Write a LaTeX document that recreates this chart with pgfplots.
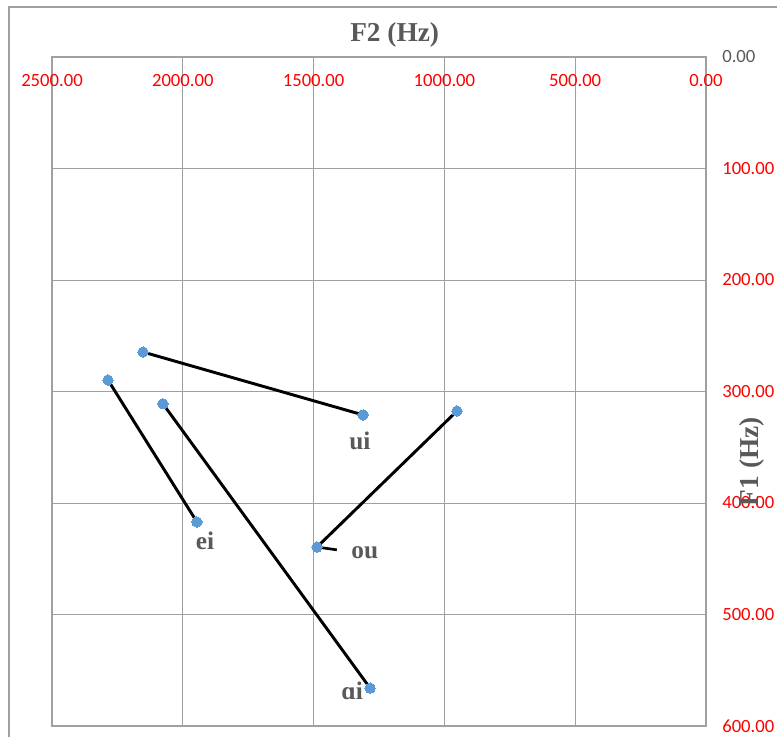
\documentclass[border=0pt]{standalone}
\usepackage{fontspec}
\setmainfont{Liberation Serif}
\newfontfamily\carlito{Carlito}
\usepackage{pgfplots}
\pgfplotsset{compat=1.18}
\usetikzlibrary{calc}
\definecolor{ptblue}{RGB}{91,155,213}
\definecolor{txtgray}{RGB}{89,89,89}
\definecolor{gridgray}{RGB}{160,160,160}
\begin{document}
\begin{tikzpicture}[x=0.75pt,y=0.75pt]
\begin{axis}[
  scale only axis, width=490.5pt, height=501.75pt,
  xmin=0, xmax=2500, ymin=0, ymax=600,
  x dir=reverse, y dir=reverse,
  xtick={0,500,1000,1500,2000,2500},
  xticklabels={0.00,500.00,1000.00,1500.00,2000.00,2500.00},
  ytick={0,100,200,300,400,500,600},
  yticklabels={\textcolor{txtgray}{0.00},100.00,200.00,300.00,400.00,500.00,600.00},
  xticklabel pos=upper, yticklabel pos=right,
  major tick length=0pt, tick style={draw=none},
  grid=major, major grid style={gridgray, line width=0.75pt},
  axis line style={gridgray, line width=0.9pt},
  xticklabel style={text=red, font=\carlito\fontsize{14}{16}\selectfont, anchor=center, yshift=-18pt},
  yticklabel style={text=red, font=\carlito\fontsize{14}{16}\selectfont, anchor=west, xshift=8.7pt},
  xlabel={F2 (Hz)},
  xlabel style={at={(axis description cs:0.524,1.033)}, anchor=center, font=\bfseries\fontsize{20.5}{22}\selectfont, text=txtgray},
  ylabel={F1 (Hz)},
  ylabel style={at={(axis description cs:1.070,0.395)}, anchor=center, rotate=0, font=\bfseries\fontsize{20.5}{22}\selectfont, text=txtgray},
  clip=false,
]
% markers
\addplot[only marks, color=ptblue, mark=*, mark size=3.9pt, mark options={fill=ptblue, draw=ptblue, line width=0pt}] coordinates {
  (2152,264.6) (1311,321)
  (2286,289.7) (1946,417)
  (2076,311) (1284,566)
  (952,317.5) (1487,439.5)
};
% trajectories
\addplot[black, line width=2.2pt, no marks] coordinates {(2152,264.6) (1311,321)};
\addplot[black, line width=2.2pt, no marks] coordinates {(2286,289.7) (1946,417)};
\addplot[black, line width=2.2pt, no marks] coordinates {(2076,311) (1284,566)};
\addplot[black, line width=2.2pt, no marks] coordinates {(952,317.5) (1487,439.5)};
\draw[black, line width=2pt] (axis cs:1487,439.5) -- (axis cs:1411,442);
\begin{scope}[every node/.style={font=\bfseries\fontsize{19}{21}\selectfont, text=txtgray}]
\node at (axis cs:1323,344.4) {ui};
\node at (axis cs:1915,434) {ei};
\node at (axis cs:1304,444.8) {ou};
\node at (axis cs:1353,568.6) {ɑi};
\end{scope}
\coordinate (SW) at (axis description cs:0,0);
\end{axis}
\pgfresetboundingbox
\useasboundingbox ($(SW)+(-52,-11)$) rectangle ++(777,737);
\draw[gridgray, line width=0.9pt] ($(SW)+(-43,-11)$) -- ++(0,730) -- ++(768,0);
\end{tikzpicture}
\end{document}
